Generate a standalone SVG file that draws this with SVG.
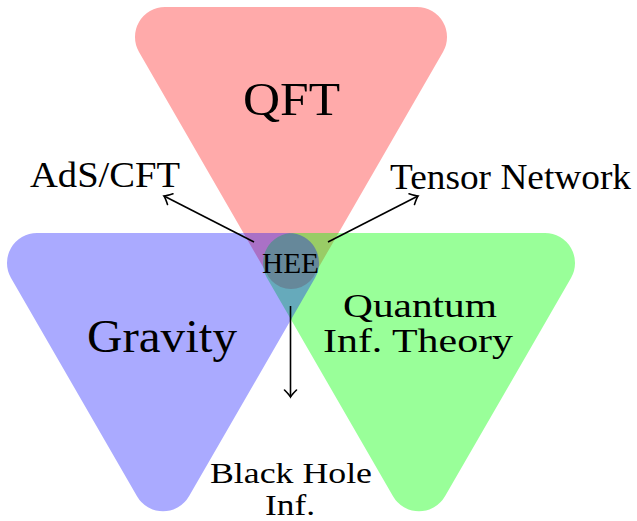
<svg xmlns="http://www.w3.org/2000/svg" width="637" height="521" viewBox="0 0 637 521">
  <style>
    .lbl { font-family: "Liberation Serif", "Times New Roman", serif; fill: #000; text-anchor: middle; }
    .arrow { stroke: #000; stroke-width: 1.6; fill: none; marker-end: url(#tip); }
  </style>
  <defs>
    <path id="tri" d="M-126 0 L126 0 A30 30 0 0 1 152 45 L26 263.3 A30 30 0 0 1 -26 263.3 L-152 45 A30 30 0 0 1 -126 0 Z"/>
    <marker id="tip" markerUnits="userSpaceOnUse" markerWidth="20" markerHeight="20" viewBox="-10 -10 20 20" refX="0" refY="0" orient="auto">
      <path d="M-7 -6 Q-2 -1 0 0 Q-2 1 -7 6" fill="none" stroke="#000" stroke-width="1.6" stroke-linecap="round"/>
    </marker>
  </defs>

  <g id="qft">
    <use href="#tri" transform="translate(291,7)" fill="#ff0000" fill-opacity="0.333"/>
    <text class="lbl" x="291.5" y="115" font-size="46" textLength="97" lengthAdjust="spacingAndGlyphs">QFT</text>
  </g>
  <g id="quantum-inf-theory">
    <use href="#tri" transform="translate(419,233)" fill="#00ff00" fill-opacity="0.4"/>
  </g>
  <g id="gravity">
    <use href="#tri" transform="translate(163,233)" fill="#0000ff" fill-opacity="0.333"/>
  </g>
  <g id="hee">
    <circle cx="291" cy="262" r="27" fill="#66889a"/>
    <text class="lbl" x="290.5" y="273" font-size="29" textLength="57" lengthAdjust="spacingAndGlyphs">HEE</text>
  </g>
  <g id="gravity-label">
    <text class="lbl" x="162" y="352" font-size="46" textLength="150" lengthAdjust="spacingAndGlyphs">Gravity</text>
  </g>
  <g id="qit-label">
    <text class="lbl" x="420" y="317" font-size="34" textLength="154" lengthAdjust="spacingAndGlyphs">Quantum</text>
    <text class="lbl" x="418" y="352" font-size="34" textLength="190" lengthAdjust="spacingAndGlyphs">Inf. Theory</text>
  </g>
  <g id="ads-cft">
    <text class="lbl" x="105" y="187" font-size="35" textLength="150" lengthAdjust="spacingAndGlyphs">AdS/CFT</text>
  </g>
  <g id="tensor-network">
    <text class="lbl" x="510.5" y="189" font-size="35" textLength="241" lengthAdjust="spacingAndGlyphs">Tensor Network</text>
  </g>
  <g id="black-hole-inf">
    <text class="lbl" x="291" y="483" font-size="30" textLength="162" lengthAdjust="spacingAndGlyphs">Black Hole</text>
    <text class="lbl" x="290" y="515" font-size="30" textLength="50" lengthAdjust="spacingAndGlyphs">Inf.</text>
  </g>

  <g id="connectors">
    <line class="arrow" x1="254" y1="242" x2="164" y2="196"/>
    <line class="arrow" x1="328" y1="242" x2="418" y2="196"/>
    <line class="arrow" x1="290.5" y1="306" x2="290.5" y2="397"/>
  </g>
</svg>
